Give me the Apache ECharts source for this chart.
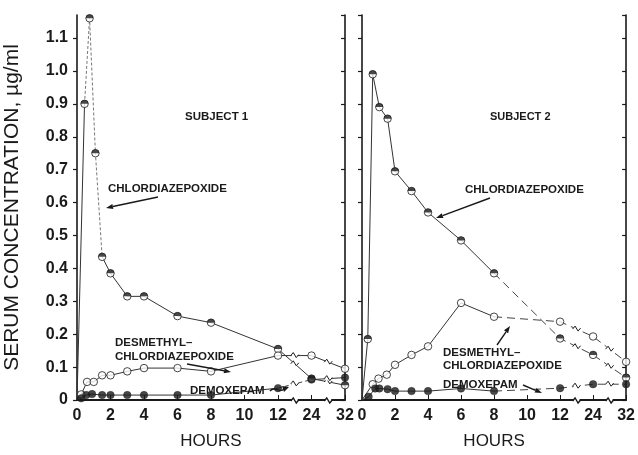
<!DOCTYPE html>
<html><head><meta charset="utf-8">
<script src="https://cdn.jsdelivr.net/npm/echarts@6/dist/echarts.min.js"></script>
<style>html,body{margin:0;padding:0;background:#fff}#c{width:638px;height:455px}</style>
</head><body><div id="c"></div>
<script>
// ---- tick labels / axis break scale ----
const tickHours = [0, 2, 4, 6, 8, 10, 12, 24, 32];
const tickLabels = ['0', '2', '4', '6', '8', '10', '12', '24', '32'];
const yTicks = [0, 0.1, 0.2, 0.3, 0.4, 0.5, 0.6, 0.7, 0.8, 0.9, 1.0, 1.1];

// ---- Subject 1 ----
const s1ChlorHours = [0, 0.45, 0.75, 1.1, 1.5, 2, 3, 4, 6, 8, 12, 24, 32];
const s1ChlorConc  = [0, 0.90, 1.16, 0.75, 0.435, 0.385, 0.315, 0.315, 0.255, 0.235, 0.155, 0.065, 0.045];
const s1DesmHours  = [0, 0.25, 0.6, 1, 1.5, 2, 3, 4, 6, 8, 12, 24, 32];
const s1DesmConc   = [0, 0.017, 0.055, 0.055, 0.075, 0.075, 0.087, 0.097, 0.097, 0.087, 0.135, 0.135, 0.095];
const s1DemoxHours = [0, 0.25, 0.55, 0.9, 1.5, 2, 3, 4, 6, 8, 12, 24, 32];
const s1DemoxConc  = [0, 0.005, 0.015, 0.018, 0.015, 0.015, 0.015, 0.015, 0.015, 0.015, 0.036, 0.062, 0.068];

// ---- Subject 2 ----
const s2ChlorHours = [0, 0.35, 0.65, 1.05, 1.55, 2, 3, 4, 6, 8, 12, 24, 32];
const s2ChlorConc  = [0, 0.185, 0.99, 0.89, 0.855, 0.695, 0.635, 0.57, 0.485, 0.385, 0.187, 0.137, 0.068];
const s2DesmHours  = [0, 0.65, 1, 1.5, 2, 3, 4, 6, 8, 12, 24, 32];
const s2DesmConc   = [0, 0.048, 0.065, 0.077, 0.107, 0.137, 0.163, 0.295, 0.253, 0.238, 0.193, 0.116];
const s2DemoxHours = [0, 0.4, 0.8, 1.05, 1.55, 2, 3, 4, 6, 8, 12, 24, 32];
const s2DemoxConc  = [0, 0.01, 0.035, 0.035, 0.033, 0.027, 0.027, 0.027, 0.035, 0.027, 0.036, 0.048, 0.048];

function hourToPos(h) {
  for (let i = 0; i < tickHours.length - 1; i++) {
    if (h <= tickHours[i + 1]) return i + (h - tickHours[i]) / (tickHours[i + 1] - tickHours[i]);
  }
  return tickHours.length - 1;
}

const INK = '#1a1a1a';
const defs = [
  {g: 0, t: s1ChlorHours, v: s1ChlorConc, mk: 'half', dashed: [1, 2, 3], dashType: [3, 2], dashColor: '#777'},
  {g: 0, t: s1DesmHours, v: s1DesmConc, mk: 'open', dashed: [], dashType: [4, 3]},
  {g: 0, t: s1DemoxHours, v: s1DemoxConc, mk: 'filled', dashed: [10], dashType: [4, 3]},
  {g: 1, t: s2ChlorHours, v: s2ChlorConc, mk: 'half', dashed: [9, 10, 11], dashType: [8, 5]},
  {g: 1, t: s2DesmHours, v: s2DesmConc, mk: 'open', dashed: [8, 9, 10], dashType: [8, 5]},
  {g: 1, t: s2DemoxHours, v: s2DemoxConc, mk: 'filled', dashed: [9, 10, 11], dashType: [8, 5]}
];

const series = [];
const breaks = [[], []];
defs.forEach(d => {
  const pts = d.t.map((h, i) => [hourToPos(h), d.v[i]]);
  let i = 0;
  while (i < pts.length - 1) {
    const isD = d.dashed.includes(i);
    let j = i;
    while (j < pts.length - 1 && d.dashed.includes(j) === isD) j++;
    series.push({
      type: 'line', xAxisIndex: d.g, yAxisIndex: d.g * 2, data: pts.slice(i, j + 1),
      symbol: 'none', silent: true, z: 2,
      lineStyle: {color: isD ? (d.dashColor || '#444') : '#333', width: 1, type: isD ? d.dashType : 'solid'}
    });
    i = j;
  }
  const mkPts = pts.slice(1);
  if (d.mk === 'filled') {
    series.push({type: 'scatter', xAxisIndex: d.g, yAxisIndex: d.g * 2, data: mkPts, symbol: 'circle', symbolSize: 7.5, z: 5,
      itemStyle: {color: INK, borderColor: INK, borderWidth: 0.5}});
  } else {
    series.push({type: 'scatter', xAxisIndex: d.g, yAxisIndex: d.g * 2, data: mkPts, symbol: 'circle', symbolSize: 7.5, z: 5,
      itemStyle: {color: '#fff', borderColor: INK, borderWidth: 1}});
    if (d.mk === 'half') {
      series.push({type: 'scatter', xAxisIndex: d.g, yAxisIndex: d.g * 2, data: mkPts,
        symbol: 'path://M0,10 A10,10 0 0 1 20,10 Z', symbolSize: [7.5, 3.75], symbolOffset: [0, -1.9], z: 6,
        itemStyle: {color: INK}});
    }
  }
  [6.5, 7.5].forEach(b => {
    for (let k = 0; k < pts.length - 1; k++) {
      if (pts[k][0] <= b && pts[k + 1][0] >= b) {
        const f = (b - pts[k][0]) / (pts[k + 1][0] - pts[k][0]);
        breaks[d.g].push([b, pts[k][1] + f * (pts[k + 1][1] - pts[k][1]), 0]);
      }
    }
  });
});
[0, 1].forEach(g => { breaks[g].push([6.5, 0, 1]); breaks[g].push([7.5, 0, 1]); });

function renderBreak(params, api) {
  const p = api.coord([api.value(0), api.value(1)]);
  const onAxis = api.value(2) === 1;
  const dy = onAxis ? 1 : 0;
  return {type: 'group', children: [
    {type: 'rect', shape: {x: p[0] - 3, y: p[1] - 3 + dy, width: 6, height: 5}, style: {fill: '#fff'}},
    {type: 'polyline', shape: {points: [[p[0] - 4, p[1] + dy], [p[0] - 1.5, p[1] - 3 + dy], [p[0] + 1.5, p[1] + 2 + dy], [p[0] + 4, p[1] - 1 + dy]]},
      style: {stroke: INK, lineWidth: onAxis ? 1.4 : 1, fill: null}}
  ]};
}
[0, 1].forEach(g => series.push({type: 'custom', xAxisIndex: g, yAxisIndex: g * 2, data: breaks[g], renderItem: renderBreak, z: 4, silent: true}));

const FONT = '"Liberation Sans", Arial, sans-serif';
function xAxis(g) {
  return {
    type: 'value', gridIndex: g, min: 0, max: 8, interval: 1,
    name: 'HOURS', nameLocation: 'middle', nameGap: 33,
    nameTextStyle: {fontFamily: FONT, fontSize: 17, color: INK},
    axisLine: {show: true, onZero: false, lineStyle: {color: INK, width: 2}},
    axisTick: {show: true, inside: true, length: 5, lineStyle: {color: INK, width: 1}},
    axisLabel: {fontFamily: FONT, fontSize: 16, fontWeight: 'bold', color: INK, margin: 8,
      formatter: v => tickLabels[Math.round(v)] || ''},
    splitLine: {show: false}
  };
}
function yAxis(g, labels, inside) {
  return {
    type: 'value', gridIndex: g, min: 0, max: 1.17, interval: 0.1,
    name: labels ? 'SERUM CONCENTRATION, \u00b5g/ml' : '', nameLocation: 'middle', nameGap: 54,
    nameTextStyle: {fontFamily: FONT, fontSize: 21, color: INK},
    axisLine: {show: true, lineStyle: {color: INK, width: 1.6}},
    axisTick: {show: true, inside: inside, length: 4, lineStyle: {color: INK, width: 1.2}},
    axisLabel: {show: labels, fontFamily: FONT, fontSize: 16, fontWeight: 'bold', color: INK, margin: 9, showMaxLabel: false,
      formatter: v => (Math.abs(v) < 1e-9 ? '0' : (yTicks.some(t => Math.abs(t - v) < 1e-6) ? v.toFixed(1) : ''))},
    splitLine: {show: false}
  };
}

function txt(x, y, s, size, align) {
  return {type: 'text', x: x, y: y, style: {text: s, font: 'bold ' + size + 'px ' + FONT, fill: INK, textAlign: align || 'left', textVerticalAlign: 'middle'}, z: 20};
}
function arrow(x1, y1, x2, y2) {
  const a = Math.atan2(y2 - y1, x2 - x1), L = 7, W = 2.5;
  const bx = x2 - L * Math.cos(a), by = y2 - L * Math.sin(a);
  const nx = -Math.sin(a) * W, ny = Math.cos(a) * W;
  return [
    {type: 'line', shape: {x1: x1, y1: y1, x2: bx, y2: by}, style: {stroke: INK, lineWidth: 1.4}, z: 20},
    {type: 'polygon', shape: {points: [[x2, y2], [bx + nx, by + ny], [bx - nx, by - ny]]}, style: {fill: INK}, z: 20}
  ];
}

const graphics = [
  txt(185, 117, 'SUBJECT 1', 11.5),
  txt(490, 117, 'SUBJECT 2', 11),
  txt(108, 189, 'CHLORDIAZEPOXIDE', 11.5),
  ...arrow(158, 197, 106, 208),
  txt(465, 190, 'CHLORDIAZEPOXIDE', 11.5),
  ...arrow(490, 198, 436, 218),
  txt(115, 343, 'DESMETHYL\u2013', 11.5),
  txt(115, 357, 'CHLORDIAZEPOXIDE', 11.5),
  ...arrow(187, 364, 231, 372),
  txt(190, 391, 'DEMOXEPAM', 11.5),
  {type: 'bezierCurve', shape: {x1: 270, y1: 391, cpx1: 275, cpy1: 385, cpx2: 279, cpy2: 394, x2: 284, y2: 389}, style: {stroke: INK, lineWidth: 1.4, fill: null}, z: 20},
  {type: 'polygon', shape: {points: [[289, 387], [282, 386], [284, 392]]}, style: {fill: INK}, z: 20},
  txt(443, 353, 'DESMETHYL\u2013', 11.5),
  txt(443, 366, 'CHLORDIAZEPOXIDE', 11.5),
  ...arrow(497, 345, 510, 326),
  txt(443, 385, 'DEMOXEPAM', 11.5),
  ...arrow(523, 385, 542, 393)
];

const chart = echarts.init(document.getElementById('c'), null, {renderer: 'canvas'});
chart.setOption({
  animation: false,
  backgroundColor: '#fff',
  grid: [
    {left: 77, top: 15, width: 268, height: 393},
    {left: 362, top: 15, width: 269, height: 393}
  ],
  xAxis: [xAxis(0), xAxis(1)],
  yAxis: [yAxis(0, true, false), yAxis(0, false, true), yAxis(1, false, false), yAxis(1, false, true)],
  series: series,
  graphic: graphics
});
</script></body></html>
